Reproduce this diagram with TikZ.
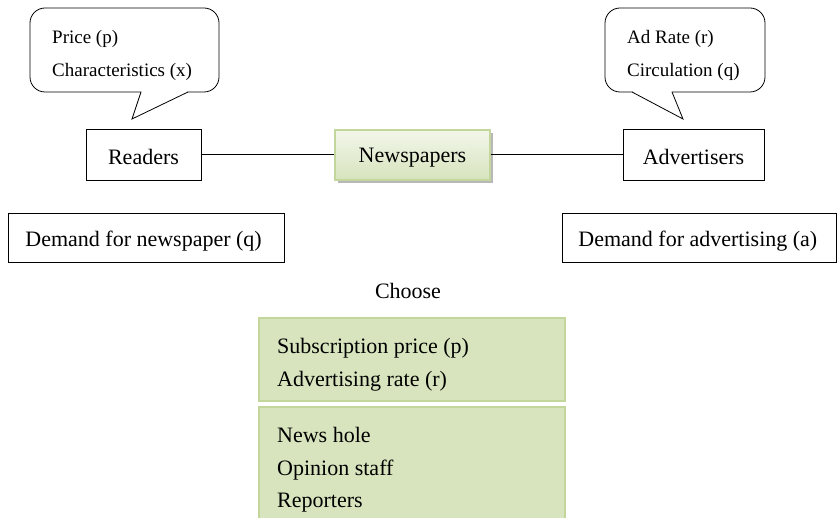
\documentclass[tikz,border=0pt]{standalone}
\usepackage{fontspec}
\setmainfont{Liberation Serif}
\usetikzlibrary{shadows}
\definecolor{gfill}{HTML}{D7E4BD}
\definecolor{gedge}{HTML}{C3D69B}
\definecolor{gtop}{HTML}{F2F6EA}
\tikzset{
  base/.style={font=\fontsize{22}{26}\selectfont},
  plainbox/.style={base, draw=black, line width=0.8pt, inner sep=0pt, minimum height=51pt, text height=19pt, text depth=0pt},
  greenrect/.style={draw=gedge, line width=1.2pt, fill=gfill},
  greentext/.style={font=\fontsize{22}{32.5}\selectfont, align=left, anchor=north west, inner sep=0pt},
  callout/.style={draw=black, line width=0.8pt, fill=white},
  calltext/.style={font=\fontsize{19}{33}\selectfont, align=left, anchor=west, inner sep=0pt},
  link/.style={draw=black, line width=1pt}
}
\begin{document}
\begin{tikzpicture}[x=1pt,y=-1pt]
\useasboundingbox (0,0) rectangle (837,518);
% left callout
\draw[callout, rounded corners=15pt] (30,8) rectangle (219,92);
\fill[white] (141.6,91) -- (187.4,91) -- (187.4,93) -- (132,119) -- cycle;
\draw[link, line width=0.8pt, line join=miter] (141,92) -- (132,119) -- (188,92);
\node[calltext] (lcall) at (52,55.5) {Price (p)\\Characteristics (x)};
% right callout
\draw[callout, rounded corners=15pt] (605,8) rectangle (765,92);
\fill[white] (632.6,91) -- (671.4,91) -- (683,119) -- (632.6,93) -- cycle;
\draw[link, line width=0.8pt, line join=miter] (632,92) -- (683,119) -- (672,92);
\node[calltext] (rcall) at (627,55.5) {Ad Rate (r)\\Circulation (q)};
% main row
\node[plainbox, minimum width=115pt] (readers) at (143.5,155) {Readers};
\node[plainbox, minimum width=141pt] (adv) at (693.5,155) {Advertisers};
\node[base, minimum width=155pt, minimum height=50pt, inner sep=0pt, draw=gedge, line width=1.2pt,
      text height=16pt, text depth=0pt,
      top color=gtop, bottom color=gfill,
      drop shadow={shadow xshift=3pt, shadow yshift=-3pt, fill=black!35, opacity=0.8}] (news) at (412.5,155) {Newspapers};
\path[link] (readers) -- (news);
\path[link] (news) -- (adv);
% demand boxes
\node[plainbox, minimum width=276pt, minimum height=49pt, anchor=west, inner xsep=17pt, text height=18pt] (dnews) at (8,237.5) {\makebox[242pt][l]{Demand for newspaper (q)}};
\node[plainbox, minimum width=274pt, minimum height=49pt, anchor=west, inner xsep=16pt, text height=18pt] (dadv) at (562,237.5) {\makebox[242pt][l]{Demand for advertising (a)}};
% choose
\node[base] (choose) at (408,290.5) {Choose};
\draw[greenrect] (259,318) rectangle (565,401);
\node[greentext] (gb1) at (277,338.5) {Subscription price (p)\\Advertising rate (r)};
\draw[greenrect] (259,407) rectangle (565,530);
\node[greentext] (gb2) at (277,427.5) {News hole\\Opinion staff\\Reporters};
\end{tikzpicture}
\end{document}
